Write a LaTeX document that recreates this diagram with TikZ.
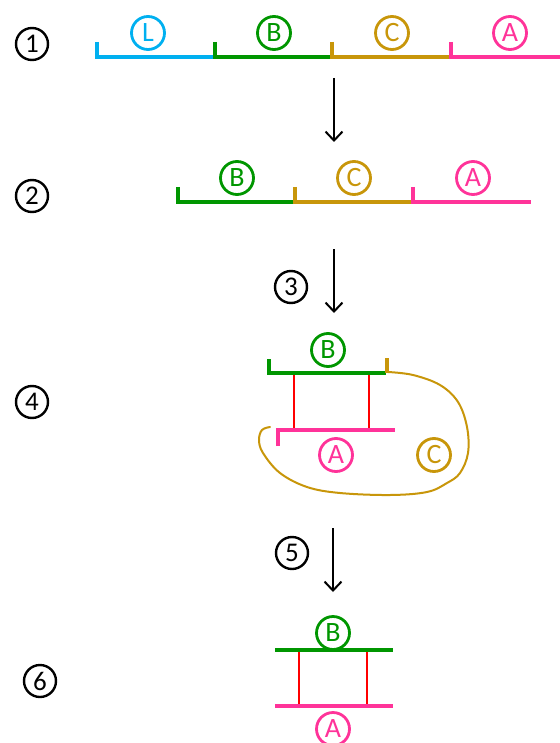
\documentclass[tikz,border=0pt]{standalone}
\usepackage{fontspec}
\newfontfamily\lab{Carlito}
\usetikzlibrary{arrows.meta}
\definecolor{cblue}{RGB}{0,176,240}
\definecolor{cgreen}{RGB}{0,150,0}
\definecolor{cgold}{RGB}{200,150,10}
\definecolor{cpink}{RGB}{255,51,153}
\definecolor{cred}{RGB}{255,0,0}
\tikzset{
  numc/.style={circle, draw=black, line width=2.4pt, minimum size=32pt, inner sep=0pt, font=\lab\fontsize{27}{27}\selectfont},
  lett/.style={circle, draw=#1, text=#1, line width=2.8pt, minimum size=33pt, inner sep=0pt, font=\lab\fontsize{28}{28}\selectfont},
  seg/.style={line width=3.2pt, line join=miter},
  rung/.style={cred, line width=1.3pt},
  arr/.style={black, line width=2pt, -{Straight Barb[length=9pt,width=17pt,line width=2pt]}}
}
\begin{document}
\begin{tikzpicture}[x=1pt,y=-1pt]
\useasboundingbox (0,0) rectangle (559,743);
% step numbers
\node[numc] (n1) at (32,44) {1};
\node[numc] (n2) at (32,196) {2};
\node[numc] (n3) at (291,287) {3};
\node[numc] (n4) at (32,402) {4};
\node[numc] (n5) at (292,553) {5};
\node[numc] (n6) at (40,681) {6};
% row 1
\draw[seg, cblue] (97,42) -- (97,57) -- (215,57);
\draw[seg, cgreen] (215,42) -- (215,57) -- (332,57);
\draw[seg, cgold] (332,42) -- (332,57) -- (451,57);
\draw[seg, cpink] (451,42) -- (451,57) -- (560,57);
\node[lett=cblue] (L1) at (148,33) {L};
\node[lett=cgreen] (B1) at (274,33) {B};
\node[lett=cgold] (C1) at (392,33) {C};
\node[lett=cpink] (A1) at (510,33) {A};
% arrow 1
\coordinate (a1s) at (334,78);
\coordinate (a1e) at (334,142);
\draw[arr] (a1s) -- (a1e);
% row 2
\draw[seg, cgreen] (178,187) -- (178,202) -- (295,202);
\draw[seg, cgold] (295,187) -- (295,202) -- (413,202);
\draw[seg, cpink] (413,187) -- (413,202) -- (531,202);
\node[lett=cgreen] (B2) at (237,178) {B};
\node[lett=cgold] (C2) at (354,178) {C};
\node[lett=cpink] (A2) at (473,178) {A};
% arrow 2
\coordinate (a2s) at (334,249);
\coordinate (a2e) at (334,313);
\draw[arr] (a2s) -- (a2e);
% row 4
\draw[rung] (294,374) -- (294,430);
\draw[rung] (369,374) -- (369,430);
\draw[seg, cgreen] (269,359) -- (269,373) -- (386,373);
\draw[seg, cgold] (387,358) -- (387,373);
\draw[seg, cpink] (278,446) -- (278,430) -- (395,430);
\draw[cgold, line width=2pt, line cap=round] plot[smooth, tension=0.6] coordinates {
  (388,372) (413,375) (440,385) (458,402) (467,427) (468,453) (460,473)
  (447,483) (427,492) (390,495) (340,493) (307,487) (280,473) (263,453)
  (259,440) (262,430) (270,427)};
\node[lett=cgreen] (B4) at (328,350) {B};
\node[lett=cpink] (A4) at (336,455) {A};
\node[lett=cgold] (C4) at (434,455) {C};
% arrow 3
\coordinate (a3s) at (333,528);
\coordinate (a3e) at (333,592);
\draw[arr] (a3s) -- (a3e);
% row 6
\draw[rung] (299,650) -- (299,706);
\draw[rung] (367,650) -- (367,706);
\draw[seg, cgreen] (275,650) -- (393,650);
\draw[seg, cpink] (275,706) -- (393,706);
\node[lett=cgreen] (B6) at (333,633) {B};
\node[lett=cpink] (A6) at (333,729) {A};
\end{tikzpicture}
\end{document}
